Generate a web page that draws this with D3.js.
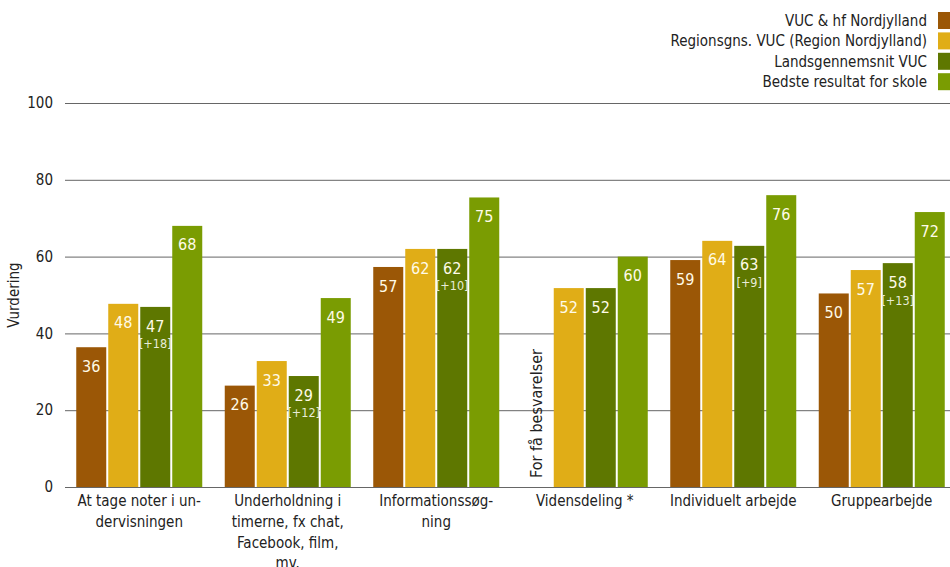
<!DOCTYPE html>
<html><head><meta charset="utf-8">
<script src="https://cdn.jsdelivr.net/npm/d3@7"></script>
<style>
body{margin:0;background:#fff;}
svg{font-family:"DejaVu Sans Condensed","DejaVu Sans",sans-serif;}
</style></head>
<body><svg id="c" width="950" height="567"></svg>
<script>
const categories = [
  ["At tage noter i un-","dervisningen"],
  ["Underholdning i","timerne, fx chat,","Facebook, film,","mv."],
  ["Informationssøg-","ning"],
  ["Vidensdeling *"],
  ["Individuelt arbejde"],
  ["Gruppearbejde"]
];
const seriesNames = ["VUC & hf Nordjylland","Regionsgns. VUC (Region Nordjylland)","Landsgennemsnit VUC","Bedste resultat for skole"];
const seriesColors = ["#9b5706","#e0ad17","#5e7700","#7a9c02"];
const vucValues = [36.4, 26.4, 57.3, null, 59.1, 50.4];
const regionValues = [47.7, 32.8, 62.0, 51.8, 64.1, 56.5];
const landsValues = [46.9, 28.9, 62.0, 51.8, 62.8, 58.3];
const bedsteValues = [68.0, 49.2, 75.4, 60.0, 76.0, 71.6];
const diffLabels = ["[+18]","[+12]","[+10]","","[+9]","[+13]"];
const missingLabel = "For få besvarelser";
const yTicks = [0,20,40,60,80,100];
const yTitle = "Vurdering";

const series = [vucValues, regionValues, landsValues, bedsteValues];
const svg = d3.select("#c");
const x0 = 65, x1 = 956, yTop = 103, yBot = 487;
const x = d3.scaleBand().domain(d3.range(categories.length)).range([x0, x1]).paddingInner(0).paddingOuter(0);
const barW = 30, gap = 2;
const groupW = 4*barW + 3*gap;
const y = d3.scaleLinear().domain([0,100]).range([yBot, yTop]);

// gridlines
svg.append("g").selectAll("line").data(yTicks).join("line")
  .attr("x1", x0).attr("x2", 950)
  .attr("y1", d=>y(d)+0.5).attr("y2", d=>y(d)+0.5)
  .attr("stroke", "#666").attr("stroke-width", 1);
// y tick labels
svg.append("g").selectAll("text").data(yTicks).join("text")
  .attr("x", 53).attr("y", d=>y(d)).attr("dy","0.35em")
  .attr("text-anchor","end").attr("font-size",15).attr("fill","#222")
  .text(d=>d);
svg.append("text").attr("transform","translate(19,295) rotate(-90)")
  .attr("text-anchor","middle").attr("font-size",15).attr("fill","#222").text(yTitle);

// bars
const g = svg.append("g");
categories.forEach((cat, ci) => {
  const gx = x(ci) + (x.bandwidth() - groupW)/2;
  series.forEach((vals, si) => {
    const v = vals[ci];
    const bx = gx + si*(barW+gap);
    if (v == null) {
      g.append("text")
        .attr("transform", `translate(${bx+barW/2},${y(0)-9}) rotate(-90)`)
        .attr("dy","0.35em").attr("font-size",16).attr("fill","#222")
        .text(missingLabel);
      return;
    }
    g.append("rect").attr("x", bx).attr("y", y(v)).attr("width", barW).attr("height", y(0)-y(v))
      .attr("fill", seriesColors[si]);
    g.append("text").attr("x", bx+barW/2).attr("y", y(v)+19).attr("dy","0.35em")
      .attr("text-anchor","middle").attr("font-size",16).attr("fill","#fffbe8").text(Math.round(v));
    if (si === 2 && diffLabels[ci]) {
      g.append("text").attr("x", bx+barW/2).attr("y", y(v)+37).attr("dy","0.35em")
        .attr("text-anchor","middle").attr("font-size",12.5).attr("fill","#e8ecd8")
        .text(diffLabels[ci]);
    }
  });
  // category labels
  const t = svg.append("text").attr("text-anchor","middle").attr("font-size",15).attr("fill","#222");
  cat.forEach((line, li) => {
    t.append("tspan").attr("x", x(ci)+x.bandwidth()/2).attr("y", 501 + li*20.7).attr("dy","0.35em").text(line);
  });
});

// legend
const lg = svg.append("g");
seriesNames.forEach((n, i) => {
  const ly = 20.5 + i*20.4;
  lg.append("rect").attr("x", 938).attr("y", ly-8.5).attr("width", 12).attr("height", 17).attr("fill", seriesColors[i]);
  lg.append("text").attr("x", 927).attr("y", ly).attr("dy","0.35em").attr("text-anchor","end")
    .attr("font-size",15).attr("fill","#222").text(n);
});
</script></body></html>
